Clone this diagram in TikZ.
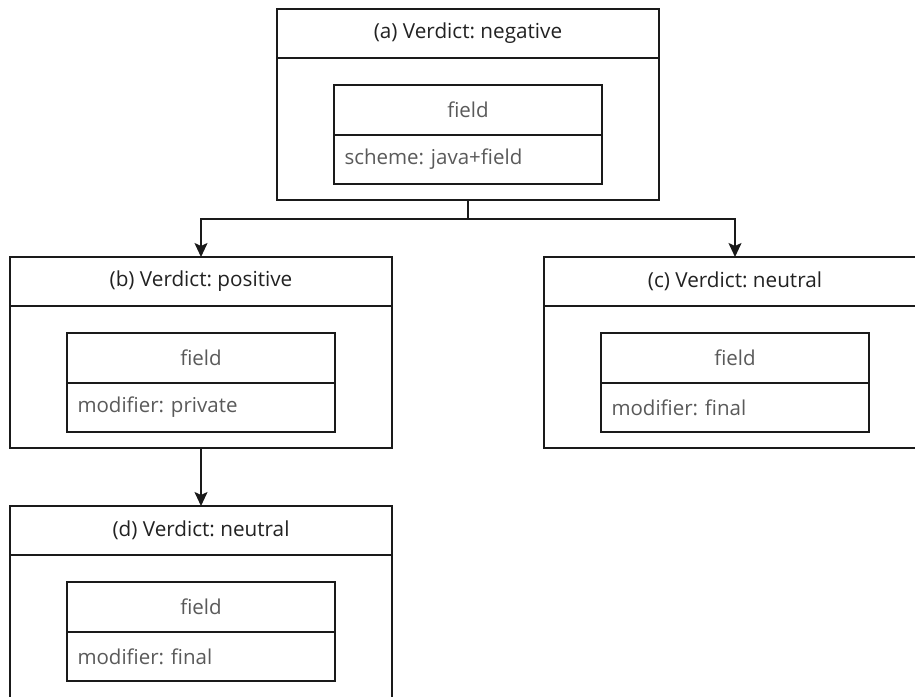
\documentclass[tikz,border=0pt]{standalone}
\usepackage{fontspec}
\setmainfont{Open Sans}
\usetikzlibrary{arrows.meta,positioning,calc}
\definecolor{ink}{HTML}{1A1A1A}
\definecolor{titletext}{HTML}{222222}
\definecolor{bodytext}{HTML}{5A5A5A}
\frenchspacing
\tikzset{
  frame/.style={draw=ink, line width=1.8pt, fill=white, inner sep=0pt, outer sep=0pt, rectangle},
  outerbox/.style={frame, anchor=north west},
  titletxt/.style={inner sep=0pt, font=\fontsize{20.7}{25}\selectfont, text=titletext},
  fieldbox/.style={frame, minimum width=268pt, minimum height=50pt, anchor=north west,
    font=\fontsize{20.5}{24}\selectfont, text=bodytext},
  attrbox/.style={frame, minimum width=268pt, minimum height=49pt, anchor=north west,
    font=\fontsize{20.5}{24}\selectfont, text=bodytext, align=left, text width=247pt},
  plainline/.style={draw=ink, line width=1.8pt},
  conn/.style={plainline, -{Stealth[length=14pt,width=13pt,inset=3pt]}},
}
% card: #1 name, #2 x, #3 y (top-left), #4 width, #5 height, #6 title, #7 attribute line
\newcommand{\verdictcard}[7]{%
  \node[outerbox, minimum width=#4pt, minimum height=#5pt] (#1) at (#2,#3) {};
  \draw[plainline] ([yshift=-49pt]#1.north west) -- ([yshift=-49pt]#1.north east);
  \node[titletxt] (#1h) at ([xshift=191pt,yshift=-24.5pt]#1.north west) {#6};
  \node[fieldbox] (#1f) at ([xshift=57pt,yshift=-76pt]#1.north west) {field};
  \node[attrbox] (#1a) at (#1f.south west) {#7};
  \coordinate (#1top) at ([xshift=191pt]#1.north west);
  \coordinate (#1bot) at ([xshift=191pt,yshift=-191pt]#1.north west);
}
\begin{document}
\begin{tikzpicture}[x=1pt,y=-1pt]
  \useasboundingbox (0,0) rectangle (915,696);
  \clip (0,0) rectangle (915,696);
  \fill[white] (0,0) rectangle (915,696);

  \verdictcard{A}{277}{9}{382}{191}{(a) Verdict: negative}{scheme: java+field}
  \verdictcard{B}{10}{257}{382}{191}{(b) Verdict: positive}{modifier: private}
  \verdictcard{C}{544}{257}{420}{191}{(c) Verdict: neutral}{modifier: final}
  \verdictcard{D}{10}{506}{382}{230}{(d) Verdict: neutral}{modifier: final}

  % branching from (a) to (b) and (c)
  \coordinate (split) at ([yshift=-19pt]Abot);
  \draw[plainline] (Abot) -- (split);
  \draw[conn] (split) -| (Btop);
  \draw[conn] (split) -| (Ctop);
  % (b) to (d)
  \draw[conn] (Bbot) -- (Dtop);
\end{tikzpicture}
\end{document}
